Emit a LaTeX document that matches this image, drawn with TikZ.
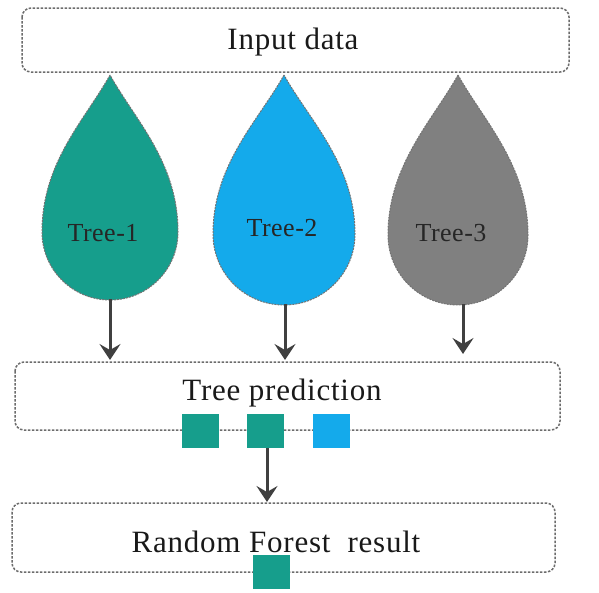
\documentclass[tikz,border=0pt]{standalone}
\usepackage{fontspec}
\setmainfont{Liberation Serif}
\usetikzlibrary{arrows.meta}
\definecolor{teal1}{RGB}{22,158,140}
\definecolor{blue1}{RGB}{20,170,235}
\definecolor{gray1}{RGB}{128,128,128}
\definecolor{arr}{RGB}{64,64,64}
\tikzset{
  dbox/.style={draw=gray!85!black, dash pattern=on 2.5pt off 1.5pt, line width=1.5pt, rounded corners=9pt},
  drop/.style={draw=black!55, dash pattern=on 2pt off 1pt, line width=1pt},
  arrowline/.style={draw=arr, line width=3pt, -{Stealth[length=16pt,width=21pt,inset=6pt]}},
  sq/.style={minimum width=37pt, minimum height=34pt, inner sep=0pt},
  big/.style={font=\fontsize{31}{34}\selectfont\addfontfeatures{LetterSpace=2.5}, text=black!90},
  lab/.style={font=\fontsize{26}{29}\selectfont\addfontfeatures{LetterSpace=2}, text=black!85},
}
\newcommand{\droppath}[4]{% cx, tipy, cy, r
  (#1,#2) .. controls (#1-25,#2+45) and (#1-#4,#3-70) .. (#1-#4,#3)
  arc[start angle=180, end angle=0, radius=#4]
  .. controls (#1+#4,#3-70) and (#1+25,#2+45) .. (#1,#2) -- cycle}
\begin{document}
\begin{tikzpicture}[x=1pt,y=-1pt]
\useasboundingbox (0,0) rectangle (599,592);
% boxes
\draw[dbox] (22,8) rectangle (569,72);
\node[big] (inp) at (293,42) {Input data};
\draw[dbox] (15,362) rectangle (560,430);
\node[big] (tp) at (282,393) {Tree prediction};
\draw[dbox] (12,503) rectangle (555,572);
\node[big] (rf) at (276,542) {Random Forest\ \ result};
% drops
\fill[teal1] \droppath{110}{75}{232}{68};
\draw[drop] \droppath{110}{75}{232}{68};
\fill[blue1] \droppath{284}{75}{234}{71};
\draw[drop] \droppath{284}{75}{234}{71};
\fill[gray1] \droppath{458}{75}{235}{70};
\draw[drop] \droppath{458}{75}{235}{70};
\node[lab] (t1) at (103,233) {Tree-1};
\node[lab] (t2) at (282,228) {Tree-2};
\node[lab] (t3) at (451,233) {Tree-3};
% coordinates
\coordinate (b1) at (110,299);
\coordinate (b2) at (285,304);
\coordinate (b3) at (463,304);
\coordinate (e1) at (110,360);
\coordinate (e2) at (285,360);
\coordinate (e3) at (463,354);
\draw[arrowline] (b1) -- (e1);
\draw[arrowline] (b2) -- (e2);
\draw[arrowline] (b3) -- (e3);
% squares
\node[sq, fill=teal1] (s1) at (200,431) {};
\node[sq, fill=teal1] (s2) at (265,431) {};
\node[sq, fill=blue1] (s3) at (331.5,431) {};
\node[sq, fill=teal1] (s4) at (271.5,572) {};
\coordinate (e4) at (267,502);
\draw[arrowline] (s2.south -| e4) -- (e4);
\end{tikzpicture}
\end{document}
